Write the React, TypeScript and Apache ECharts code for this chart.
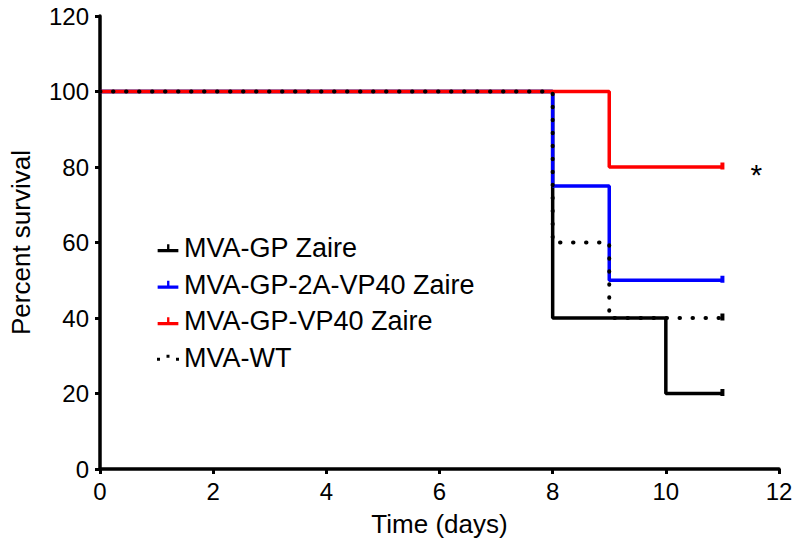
import React, { useEffect, useRef } from "react";
import * as echarts from "echarts";

const seriesNames = ["MVA-GP Zaire", "MVA-GP-2A-VP40 Zaire", "MVA-GP-VP40 Zaire", "MVA-WT"];
const seriesColors = ["#000000", "#0000ff", "#ff0000", "#000000"];
// Kaplan-Meier step points [day, percent survival]
const gpZaire: number[][] = [[0, 100], [8, 40], [10, 20], [11, 20]];
const gp2aVp40: number[][] = [[0, 100], [8, 75], [9, 50], [11, 50]];
const gpVp40: number[][] = [[0, 100], [9, 80], [11, 80]];
const mvaWt: number[][] = [[0, 100], [8, 60], [9, 40], [11, 40]];
const xTicks = { min: 0, max: 12, interval: 2 };
const yTicks = { min: 0, max: 120, interval: 20 };
const significance = { x: 11.6, y: 80, text: "*" };

const FONT = "Liberation Sans, Arial, sans-serif";

const solidIcon = "path://M0,5 H22 V8.5 H0 Z M10,0 H12.5 V5 H10 Z";
const dotIcon = "path://M0,6 H3 V9 H0 Z M9.5,3 H12.5 V6 H9.5 Z M19,6 H22 V9 H19 Z";

function toData(points: number[][]) {
  return points.map((p, i) =>
    i === points.length - 1
      ? { value: p, symbol: "rect", symbolSize: [4, 7], symbolOffset: [0, -1] }
      : { value: p }
  );
}

export default function App() {
  const ref = useRef<HTMLDivElement>(null);
  useEffect(() => {
    if (!ref.current) return;
    const chart = echarts.init(ref.current, undefined, { renderer: "svg" });
    const sets = [gpZaire, gp2aVp40, gpVp40, mvaWt];
    const series: any[] = sets.map((pts, i) => ({
      name: seriesNames[i],
      type: "line",
      step: "end",
      data: toData(pts),
      symbol: "none",
      showSymbol: true,
      color: seriesColors[i],
      itemStyle: { color: seriesColors[i] },
      lineStyle:
        i === 3
          ? { color: "#000", width: 4, type: [0.5, 12.5], cap: "round" }
          : { color: seriesColors[i], width: 3.5 },
      z: 2 + i,
      clip: false,
    }));
    series[2].markPoint = {
      symbol: "circle",
      symbolSize: 0,
      data: [{ coord: [significance.x, significance.y] }],
      label: {
        show: true,
        formatter: significance.text,
        color: "#000",
        fontSize: 30,
        fontFamily: FONT,
        position: "inside",
        offset: [0, 7],
      },
    };
    chart.setOption({
      animation: false,
      backgroundColor: "#ffffff",
      grid: { left: 96, right: 21, top: 16, bottom: 83 },
      legend: {
        left: 152,
        top: 229,
        orient: "vertical",
        itemWidth: 22,
        itemHeight: 8,
        itemGap: 8,
        textStyle: { fontSize: 27, fontFamily: FONT, color: "#000", lineHeight: 28.5 },
        data: seriesNames.map((n, i) => ({
          name: n,
          icon: i === 3 ? dotIcon : solidIcon,
        })),
        selectedMode: false,
      },
      xAxis: {
        type: "value",
        min: xTicks.min,
        max: xTicks.max,
        interval: xTicks.interval,
        name: "Time (days)",
        nameLocation: "middle",
        nameGap: 42,
        nameTextStyle: { fontSize: 26, fontFamily: FONT, color: "#000" },
        axisLine: { show: true, lineStyle: { color: "#000", width: 3.5 } },
        axisTick: { show: true, length: 5, lineStyle: { color: "#000", width: 3 } },
        axisLabel: { fontSize: 24, fontFamily: FONT, color: "#000", margin: 10 },
        splitLine: { show: false },
      },
      yAxis: {
        type: "value",
        min: yTicks.min,
        max: yTicks.max,
        interval: yTicks.interval,
        name: "Percent survival",
        nameLocation: "middle",
        nameGap: 66,
        nameTextStyle: { fontSize: 26, fontFamily: FONT, color: "#000" },
        axisLine: { show: true, lineStyle: { color: "#000", width: 3.5 } },
        axisTick: { show: true, length: 5, lineStyle: { color: "#000", width: 3 } },
        axisLabel: { fontSize: 24, fontFamily: FONT, color: "#000", margin: 11 },
        splitLine: { show: false },
      },
      series,
    });
    return () => chart.dispose();
  }, []);
  return (
    <div
      ref={ref}
      style={{ position: "absolute", left: 0, top: 0, width: 800, height: 552 }}
    />
  );
}
